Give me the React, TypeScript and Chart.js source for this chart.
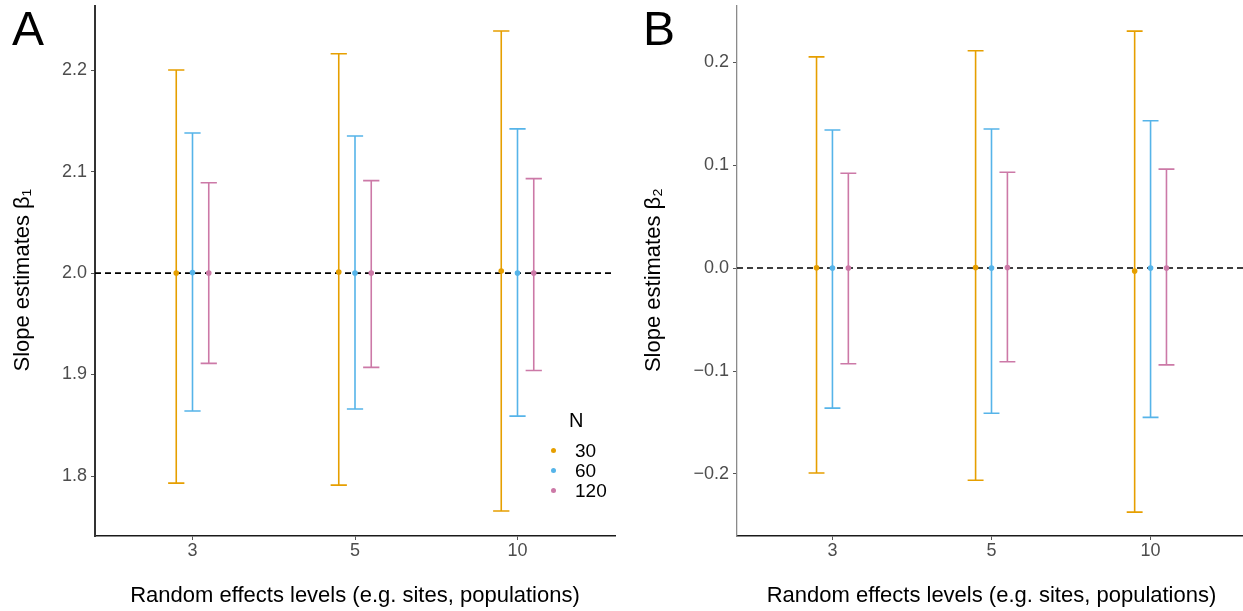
import React, { useEffect, useRef } from "react";
import { Chart, registerables } from "chart.js";

Chart.register(...registerables);

const FONT = "'Liberation Sans', Arial, Helvetica, sans-serif";

// categories (random effects levels) and series (N)
const categories = ["3", "5", "10"];
const seriesN = ["30", "60", "120"];
const seriesColors = ["#E69F00", "#56B4E9", "#CC79A7"];

// Panel A: slope estimates beta1 (mean, lower, upper)
const meanA30 = [2.0, 2.001, 2.002];
const lowA30 = [1.793, 1.791, 1.7655];
const highA30 = [2.2, 2.216, 2.2384];
const meanA60 = [2.0005, 2.0, 2.0];
const lowA60 = [1.864, 1.866, 1.859];
const highA60 = [2.138, 2.135, 2.142];
const meanA120 = [2.0, 2.0, 2.0];
const lowA120 = [1.911, 1.907, 1.904];
const highA120 = [2.089, 2.091, 2.093];

// Panel B: slope estimates beta2 (mean, lower, upper)
const meanB30 = [0.0003, 0.0005, -0.003];
const lowB30 = [-0.199, -0.206, -0.237];
const highB30 = [0.205, 0.211, 0.23];
const meanB60 = [0.0, 0.0, 0.0];
const lowB60 = [-0.136, -0.141, -0.145];
const highB60 = [0.134, 0.135, 0.143];
const meanB120 = [0.0, 0.0005, 0.0];
const lowB120 = [-0.093, -0.091, -0.094];
const highB120 = [0.092, 0.093, 0.096];

const ticksA = [1.8, 1.9, 2.0, 2.1, 2.2];
const ticksB = [-0.2, -0.1, 0.0, 0.1, 0.2];
const rangeA = [1.7409, 2.2631];
const rangeB = [-0.2602, 0.2544];
const refA = 2.0;
const refB = 0.0;

const DODGE = [-0.1, 0, 0.1];
const CAP = 0.05;

type PanelSpec = {
  means: number[][];
  lows: number[][];
  highs: number[][];
  ticks: number[];
  range: number[];
  ref: number;
  yTitle: string;
  yTitlePad: number;
  yWidth: number;
  padRight: number;
  yBorderColor: string;
  yBorderWidth: number;
  dashWidth: number;
};

function errorBarPath(cx: number[], lo: number[], hi: number[]) {
  const pts: { x: number; y: number | null }[] = [];
  cx.forEach((x, i) => {
    pts.push({ x: x - CAP, y: lo[i] }, { x: x + CAP, y: lo[i] }, { x, y: null });
    pts.push({ x, y: lo[i] }, { x, y: hi[i] }, { x, y: null });
    pts.push({ x: x - CAP, y: hi[i] }, { x: x + CAP, y: hi[i] }, { x, y: null });
  });
  return pts;
}

function buildConfig(p: PanelSpec): any {
  const datasets: any[] = [];
  datasets.push({
    label: "ref",
    data: [
      { x: 0.4, y: p.ref },
      { x: 3.6, y: p.ref },
    ],
    showLine: true,
    borderColor: "#000000",
    borderWidth: p.dashWidth,
    borderDash: [6, 4],
    pointRadius: 0,
    order: 10,
  });
  seriesN.forEach((n, s) => {
    const cx = categories.map((_, i) => i + 1 + DODGE[s]);
    datasets.push({
      label: "N=" + n + " interval",
      data: errorBarPath(cx, p.lows[s], p.highs[s]),
      showLine: true,
      spanGaps: false,
      borderColor: seriesColors[s],
      borderWidth: 1.6,
      pointRadius: 0,
      order: 5,
    });
    datasets.push({
      label: "N=" + n,
      data: cx.map((x, i) => ({ x, y: p.means[s][i] })),
      showLine: false,
      pointRadius: 2.8,
      pointBackgroundColor: seriesColors[s],
      pointBorderWidth: 0,
      order: 1,
    });
  });

  return {
    type: "scatter",
    data: { datasets },
    options: {
      animation: false,
      responsive: false,
      events: [],
      layout: { padding: { top: 6, right: p.padRight, left: 0, bottom: 0 } },
      plugins: { legend: { display: false }, tooltip: { enabled: false } },
      scales: {
        x: {
          type: "linear",
          min: 0.4,
          max: 3.6,
          afterBuildTicks: (s: any) => {
            s.ticks = categories.map((_, i) => ({ value: i + 1 }));
          },
          afterFit: (s: any) => {
            s.height = 75;
            s.paddingLeft = 0;
            s.paddingRight = 0;
          },
          ticks: {
            callback: (v: number) => categories[Math.round(v) - 1] ?? "",
            color: "#4D4D4D",
            font: { size: 18, family: FONT },
            padding: 0,
            maxRotation: 0,
            autoSkip: false,
          },
          grid: {
            drawOnChartArea: false,
            drawTicks: true,
            tickLength: 4,
            tickColor: "#555555",
            color: "#555555",
          },
          border: { display: true, color: "#1a1a1a", width: 1.6 },
          title: {
            display: true,
            text: "Random effects levels (e.g. sites, populations)",
            color: "#000000",
            font: { size: 22, family: FONT },
            padding: { top: 0, bottom: 2 },
          },
        },
        y: {
          type: "linear",
          min: p.range[0],
          max: p.range[1],
          afterBuildTicks: (s: any) => {
            s.ticks = p.ticks.map((v) => ({ value: v }));
          },
          afterFit: (s: any) => {
            s.width = p.yWidth;
            s.paddingTop = 0;
            s.paddingBottom = 0;
          },
          ticks: {
            callback: (v: number) => {
              const t = Math.abs(v).toFixed(1);
              return v < -1e-9 ? "\u2212" + t : t;
            },
            color: "#4D4D4D",
            font: { size: 18, family: FONT },
            padding: 4,
          },
          grid: {
            drawOnChartArea: false,
            drawTicks: true,
            tickLength: 4,
            tickColor: "#555555",
            color: "#555555",
          },
          border: { display: true, color: p.yBorderColor, width: p.yBorderWidth },
          title: {
            display: true,
            text: p.yTitle,
            color: "#000000",
            font: { size: 22, family: FONT },
            padding: { top: p.yTitlePad, bottom: 0 },
          },
        },
      },
    },
  };
}

function Panel({ spec, width, left }: { spec: PanelSpec; width: number; left: number }) {
  const ref = useRef<HTMLCanvasElement | null>(null);
  useEffect(() => {
    if (!ref.current) return;
    const chart = new Chart(ref.current, buildConfig(spec));
    return () => chart.destroy();
  }, []);
  return (
    <canvas
      ref={ref}
      width={width}
      height={611}
      style={{ position: "absolute", left, top: 0, width, height: 611 }}
    />
  );
}

const specA: PanelSpec = {
  means: [meanA30, meanA60, meanA120],
  lows: [lowA30, lowA60, lowA120],
  highs: [highA30, highA60, highA120],
  ticks: ticksA,
  range: rangeA,
  ref: refA,
  yTitle: "Slope estimates \u03B2\u2081   ",
  yTitlePad: 10,
  yWidth: 95,
  padRight: 5,
  yBorderColor: "#333333",
  yBorderWidth: 2,
  dashWidth: 1.8,
};

const specB: PanelSpec = {
  means: [meanB30, meanB60, meanB120],
  lows: [lowB30, lowB60, lowB120],
  highs: [highB30, highB60, highB120],
  ticks: ticksB,
  range: rangeB,
  ref: refB,
  yTitle: "Slope estimates \u03B2\u2082   ",
  yTitlePad: 21,
  yWidth: 117,
  padRight: 4,
  yBorderColor: "#8a8a8a",
  yBorderWidth: 1.3,
  dashWidth: 1.3,
};

const legendLabelStyle: React.CSSProperties = {
  position: "absolute",
  left: 575,
  fontFamily: FONT,
  fontSize: 19,
  lineHeight: 1,
  color: "#000",
  whiteSpace: "nowrap",
};

export default function App() {
  return (
    <div
      style={{
        position: "absolute",
        left: 0,
        top: 0,
        width: 1243,
        height: 611,
        overflow: "hidden",
        background: "#ffffff",
      }}
    >
      <Panel spec={specA} width={620} left={0} />
      <Panel spec={specB} width={630} left={620} />
      <div
        style={{
          position: "absolute",
          left: 12,
          top: 5,
          fontFamily: FONT,
          fontSize: 48,
          lineHeight: 1,
          color: "#000",
        }}
      >
        A
      </div>
      <div
        style={{
          position: "absolute",
          left: 643,
          top: 5,
          fontFamily: FONT,
          fontSize: 48,
          lineHeight: 1,
          color: "#000",
        }}
      >
        B
      </div>
      <div
        style={{
          position: "absolute",
          left: 569,
          top: 410,
          fontFamily: FONT,
          fontSize: 20,
          lineHeight: 1,
          color: "#000",
        }}
      >
        N
      </div>
      {seriesN.map((n, i) => (
        <React.Fragment key={n}>
          <div
            style={{
              position: "absolute",
              left: 551,
              top: 447.5 + i * 20,
              width: 5,
              height: 5,
              borderRadius: "50%",
              background: seriesColors[i],
            }}
          />
          <div style={{ ...legendLabelStyle, top: 441 + i * 20 }}>{n}</div>
        </React.Fragment>
      ))}
    </div>
  );
}
